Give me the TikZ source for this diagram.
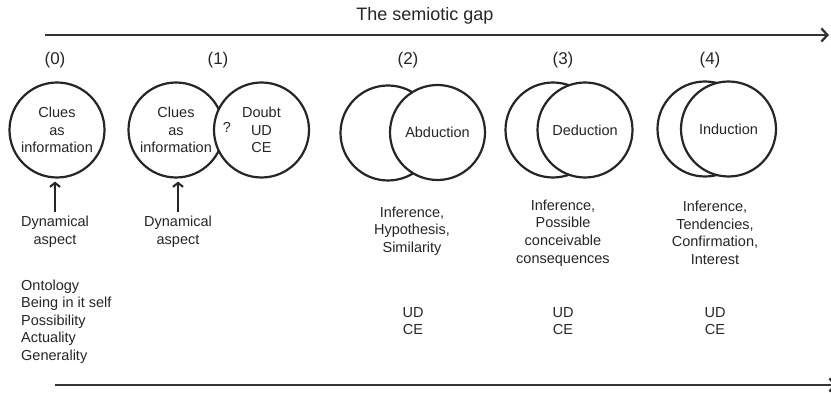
\documentclass[tikz,border=0pt]{standalone}
\usepackage{fontspec}
\setmainfont{Liberation Sans}
\usetikzlibrary{arrows.meta}
\begin{document}
\begin{tikzpicture}[x=1pt,y=-1pt,
  txt/.style={font=\fontsize{14.5}{17.6}\selectfont, align=center, inner sep=0pt, text=black!85},
  lbl/.style={font=\fontsize{17}{20}\selectfont, inner sep=0pt, text=black!85},
  circ/.style={circle, draw=black!85, line width=2.2pt, minimum size=95pt, inner sep=0pt,
    font=\fontsize{14.5}{17.6}\selectfont, align=center, text=black!85},
  bigarrow/.style={draw=black!80, line width=2.3pt, -{Straight Barb[length=6pt,width=13pt,line width=2.3pt]}},
  smallarrow/.style={draw=black!85, line width=2.3pt, shorten >=3pt, -{Straight Barb[length=4pt,width=10pt,line width=2pt]}}
]
\useasboundingbox (0,0) rectangle (831,395);
\fill[white] (0,0) rectangle (831,395);

% title and top arrow
\node[lbl, font=\fontsize{18}{21}\selectfont] (title) at (425,16) {The semiotic gap};
\coordinate (ta) at (45,35);
\coordinate (tb) at (829,35);
\draw[bigarrow] (ta) -- (tb);

% step labels
\node[lbl] (l0) at (55,60) {(0)};
\node[lbl] (l1) at (218,60) {(1)};
\node[lbl] (l2) at (408,60) {(2)};
\node[lbl] (l3) at (563,60) {(3)};
\node[lbl] (l4) at (710,60) {(4)};

% (0)
\node[circ] (c0) at (57,130) {Clues\\as\\information};
% (1)
\node[circ] (c1a) at (176,130) {Clues\\as\\information};
\node[circ, fill=white] (c1b) at (261.5,130) {Doubt\\UD\\CE};
\node[txt] (q) at (227,127) {?};
% (2)
\node[circ] (c2a) at (388,133) {};
\node[circ, fill=white] (c2b) at (437.5,132.5) {Abduction};
% (3)
\node[circ] (c3a) at (553,130) {};
\node[circ, fill=white] (c3b) at (585,130) {Deduction};
% (4)
\node[circ] (c4a) at (705,129) {};
\node[circ, fill=white] (c4b) at (728.5,129) {Induction};

% dynamical aspects
\node[txt] (d0) at (55,232) {Dynamical\\aspect};
\node[txt] (d1) at (178,232) {Dynamical\\aspect};
\draw[smallarrow] ([yshift=4pt]d0.north) -- (d0.north |- c0.south);
\draw[smallarrow] ([yshift=4pt]d1.north) -- (d1.north |- c1a.south);

% ontology list
\node[txt, align=left, anchor=west] (ont) at (21,321.5) {Ontology\\Being in it self\\Possibility\\Actuality\\Generality};

% inference texts
\node[txt] (i2) at (412,231) {Inference,\\Hypothesis,\\Similarity};
\node[txt] (i3) at (563,233) {Inference,\\Possible\\conceivable\\consequences};
\node[txt] (i4) at (715,233) {Inference,\\Tendencies,\\Confirmation,\\Interest};

% UD CE
\node[txt] (u2) at (413,321) {UD\\CE};
\node[txt] (u3) at (563,321) {UD\\CE};
\node[txt] (u4) at (715,321) {UD\\CE};

% bottom arrow
\coordinate (ba) at (55,385);
\coordinate (bb) at (837,385);
\draw[bigarrow] (ba) -- (bb);
\end{tikzpicture}
\end{document}
